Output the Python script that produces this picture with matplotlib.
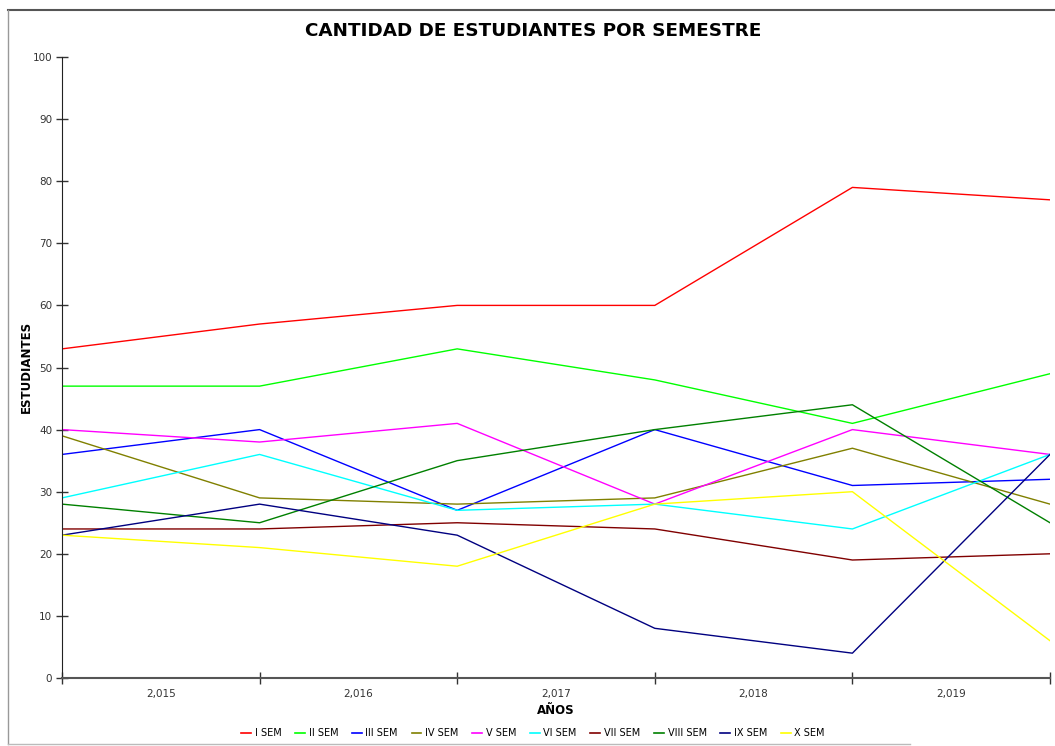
import matplotlib
matplotlib.use("Agg")
import matplotlib.pyplot as plt
from matplotlib.lines import Line2D

years = ["2,015", "2,016", "2,017", "2,018", "2,019"]
series_names = ["I SEM", "II SEM", "III SEM", "IV SEM", "V SEM",
                "VI SEM", "VII SEM", "VIII SEM", "IX SEM", "X SEM"]
sem_I = [53, 57, 60, 60, 79, 77]
sem_II = [47, 47, 53, 48, 41, 49]
sem_III = [36, 40, 27, 40, 31, 32]
sem_IV = [39, 29, 28, 29, 37, 28]
sem_V = [40, 38, 41, 28, 40, 36]
sem_VI = [29, 36, 27, 28, 24, 36]
sem_VII = [24, 24, 25, 24, 19, 20]
sem_VIII = [28, 25, 35, 40, 44, 25]
sem_IX = [23, 28, 23, 8, 4, 36]
sem_X = [23, 21, 18, 28, 30, 6]
values = [sem_I, sem_II, sem_III, sem_IV, sem_V, sem_VI, sem_VII, sem_VIII, sem_IX, sem_X]
colors = ["#ff0000", "#00ff00", "#0000ff", "#808000", "#ff00ff",
          "#00ffff", "#800000", "#008000", "#000080", "#ffff00"]

plt.rcParams['font.family'] = ['DejaVu Sans']
W, H = 1055, 746
fig = plt.figure(figsize=(W / 100, H / 100), dpi=100)
ax = fig.add_axes([62 / W, 1 - 678 / H, (1050 - 62) / W, (678 - 57) / H])

xs = list(range(len(sem_I)))
for name, vals, c in zip(series_names, values, colors):
    ax.plot(xs, vals, color=c, lw=1.0, label=name)

ax.set_xlim(0, len(sem_I) - 1)
ax.set_ylim(0, 100)
ax.set_yticks(range(0, 101, 10))
ax.set_xticks(xs)
ax.set_xticklabels([])
ax.set_xticks([i + 0.5 for i in range(len(years))], minor=True)
ax.set_xticklabels(years, minor=True)
ax.tick_params(axis='x', which='minor', length=0, labelsize=7.5, pad=8, colors='#333333')
ax.tick_params(axis='x', which='major', direction='inout', length=8, width=1, color='#333333')
ax.tick_params(axis='y', direction='inout', length=8, width=1, labelsize=7.5, colors='#333333', pad=3)
for s in ['top', 'right']:
    ax.spines[s].set_visible(False)
ax.spines['left'].set_color('#222222')
ax.spines['bottom'].set_color('#555555')
ax.spines['bottom'].set_linewidth(1.5)

fig.text(533 / W, 1 - 31 / H, "CANTIDAD DE ESTUDIANTES POR SEMESTRE",
         ha='center', va='center', fontsize=13.2, fontweight='bold')
fig.text(26 / W, 1 - 367 / H, "ESTUDIANTES", rotation=90, ha='center', va='center',
         fontsize=8.5, fontweight='bold')
fig.text(556 / W, 1 - 711 / H, "AÑOS", ha='center', va='center',
         fontsize=8.5, fontweight='bold')

handles = [Line2D([0], [0], color=c, lw=1.2) for c in colors]
fig.legend(handles, series_names, loc='center', bbox_to_anchor=(533 / W, 1 - 733 / H),
           ncol=10, frameon=False, fontsize=7, handlelength=1.0, handletextpad=0.4,
           columnspacing=1.4)

# outer frame
fig.add_artist(Line2D([8 / W, 1.0], [1 - 9.5 / H, 1 - 9.5 / H], color='#555555', lw=1.5,
                      transform=fig.transFigure))
fig.add_artist(Line2D([8 / W, 8 / W], [1 - 9.5 / H, 1 - 744 / H], color='#999999', lw=1,
                      transform=fig.transFigure))
fig.add_artist(Line2D([8 / W, 910 / W], [1 - 744 / H, 1 - 744 / H], color='#bbbbbb', lw=1,
                      transform=fig.transFigure))

fig.savefig("out.png", dpi=100)
